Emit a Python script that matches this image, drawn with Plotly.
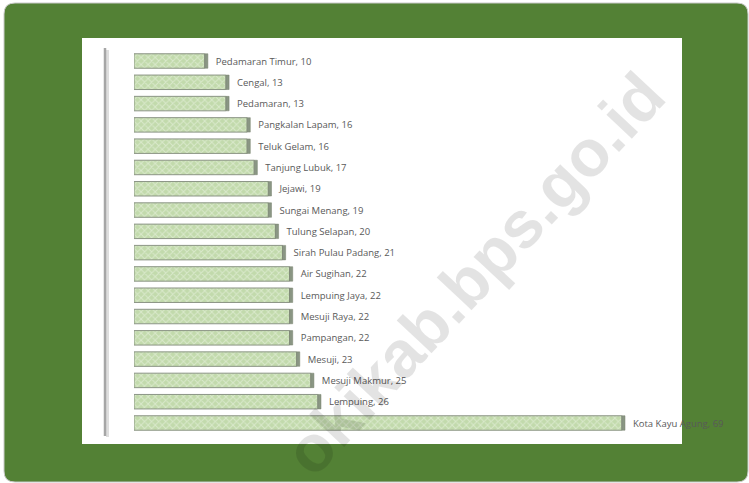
import plotly.graph_objects as go

W, H = 749, 483

categories = ["Pedamaran Timur", "Cengal", "Pedamaran", "Pangkalan Lapam", "Teluk Gelam",
              "Tanjung Lubuk", "Jejawi", "Sungai Menang", "Tulung Selapan", "Sirah Pulau Padang",
              "Air Sugihan", "Lempuing Jaya", "Mesuji Raya", "Pampangan", "Mesuji",
              "Mesuji Makmur", "Lempuing", "Kota Kayu Agung"]
values = [10, 13, 13, 16, 16, 17, 19, 19, 20, 21, 22, 22, 22, 22, 23, 25, 26, 69]
watermark = "okikab.bps.go.id"


def px(x):
    return x / W


def py(y):
    return 1 - y / H


def rounded_rect(x0, y0, x1, y1, r):
    rx, ry = r / W, r / H
    X0, X1 = px(x0), px(x1)
    Y0, Y1 = py(y0), py(y1)  # Y0 top (larger), Y1 bottom
    return (f"M {X0+rx},{Y0} L {X1-rx},{Y0} Q {X1},{Y0} {X1},{Y0-ry} "
            f"L {X1},{Y1+ry} Q {X1},{Y1} {X1-rx},{Y1} "
            f"L {X0+rx},{Y1} Q {X0},{Y1} {X0},{Y1+ry} "
            f"L {X0},{Y0-ry} Q {X0},{Y0} {X0+rx},{Y0} Z")


labels = [f"  {c}, {v}" for c, v in zip(categories, values)]

fig = go.Figure()
fig.add_trace(go.Bar(
    y=categories, x=values, orientation="h", width=0.68,
    marker=dict(color="#c2daac", line=dict(color="#8c9586", width=1),
                pattern=dict(shape="x", fgcolor="#f0f7ea", size=5, solidity=0.35)),
    hoverinfo="skip", showlegend=False,
))
# 3D-style end cap drawn from the same values
fig.add_trace(go.Bar(
    y=categories, x=[0.45] * len(values), base=values, orientation="h", width=0.68,
    marker=dict(color="#8a9684", line=dict(color="#78836f", width=0.5)),
    text=labels, textposition="outside", cliponaxis=False,
    textfont=dict(family="Open Sans, Liberation Sans, sans-serif", size=9.5, color="#595959"),
    hoverinfo="skip", showlegend=False,
))

zero_px, scale = 134, 7.07
xmax = (682 - zero_px) / scale
n = len(categories)
top_c, bot_c = 61, 423
step = (bot_c - top_c) / (n - 1)
y_top = top_c - step / 2
y_bot = bot_c + step / 2

shapes = [
    dict(type="path", xref="paper", yref="paper", layer="below",
         path=rounded_rect(4, 3, 748, 482, 11),
         fillcolor="#538135", line=dict(color="#c9c9c9", width=1)),
    dict(type="rect", xref="paper", yref="paper", layer="below",
         x0=px(82), x1=px(682), y0=py(444), y1=py(38),
         fillcolor="white", line=dict(width=0)),
    dict(type="line", xref="paper", yref="paper", layer="below",
         x0=px(107.5), x1=px(107.5), y0=py(437), y1=py(50),
         line=dict(color="#dedede", width=3)),
    dict(type="line", xref="paper", yref="paper", layer="below",
         x0=px(105), x1=px(105), y0=py(436), y1=py(48),
         line=dict(color="#a6a6a6", width=2.5)),
]

fig.update_layout(
    width=W, height=H, margin=dict(l=0, r=0, t=0, b=0),
    paper_bgcolor="white", plot_bgcolor="rgba(0,0,0,0)",
    barmode="overlay",
    xaxis=dict(domain=[px(zero_px), px(682)], range=[0, xmax], visible=False, fixedrange=True),
    yaxis=dict(domain=[py(y_bot), py(y_top)], range=[n - 0.5, -0.5], visible=False,
               categoryorder="array", categoryarray=categories, fixedrange=True),
    shapes=shapes,
    annotations=[dict(text=f"<b>{watermark}</b>", xref="paper", yref="paper",
                      x=px(474), y=py(274), showarrow=False, textangle=-47,
                      font=dict(family="Liberation Sans, Arial, sans-serif", size=66,
                                color="rgba(0,0,0,0.11)"))],
)

fig.write_html("out.html", config={"displayModeBar": False},
               post_script="document.body.style.margin='0';document.body.style.padding='0';"
                           "document.body.style.overflow='hidden';")
